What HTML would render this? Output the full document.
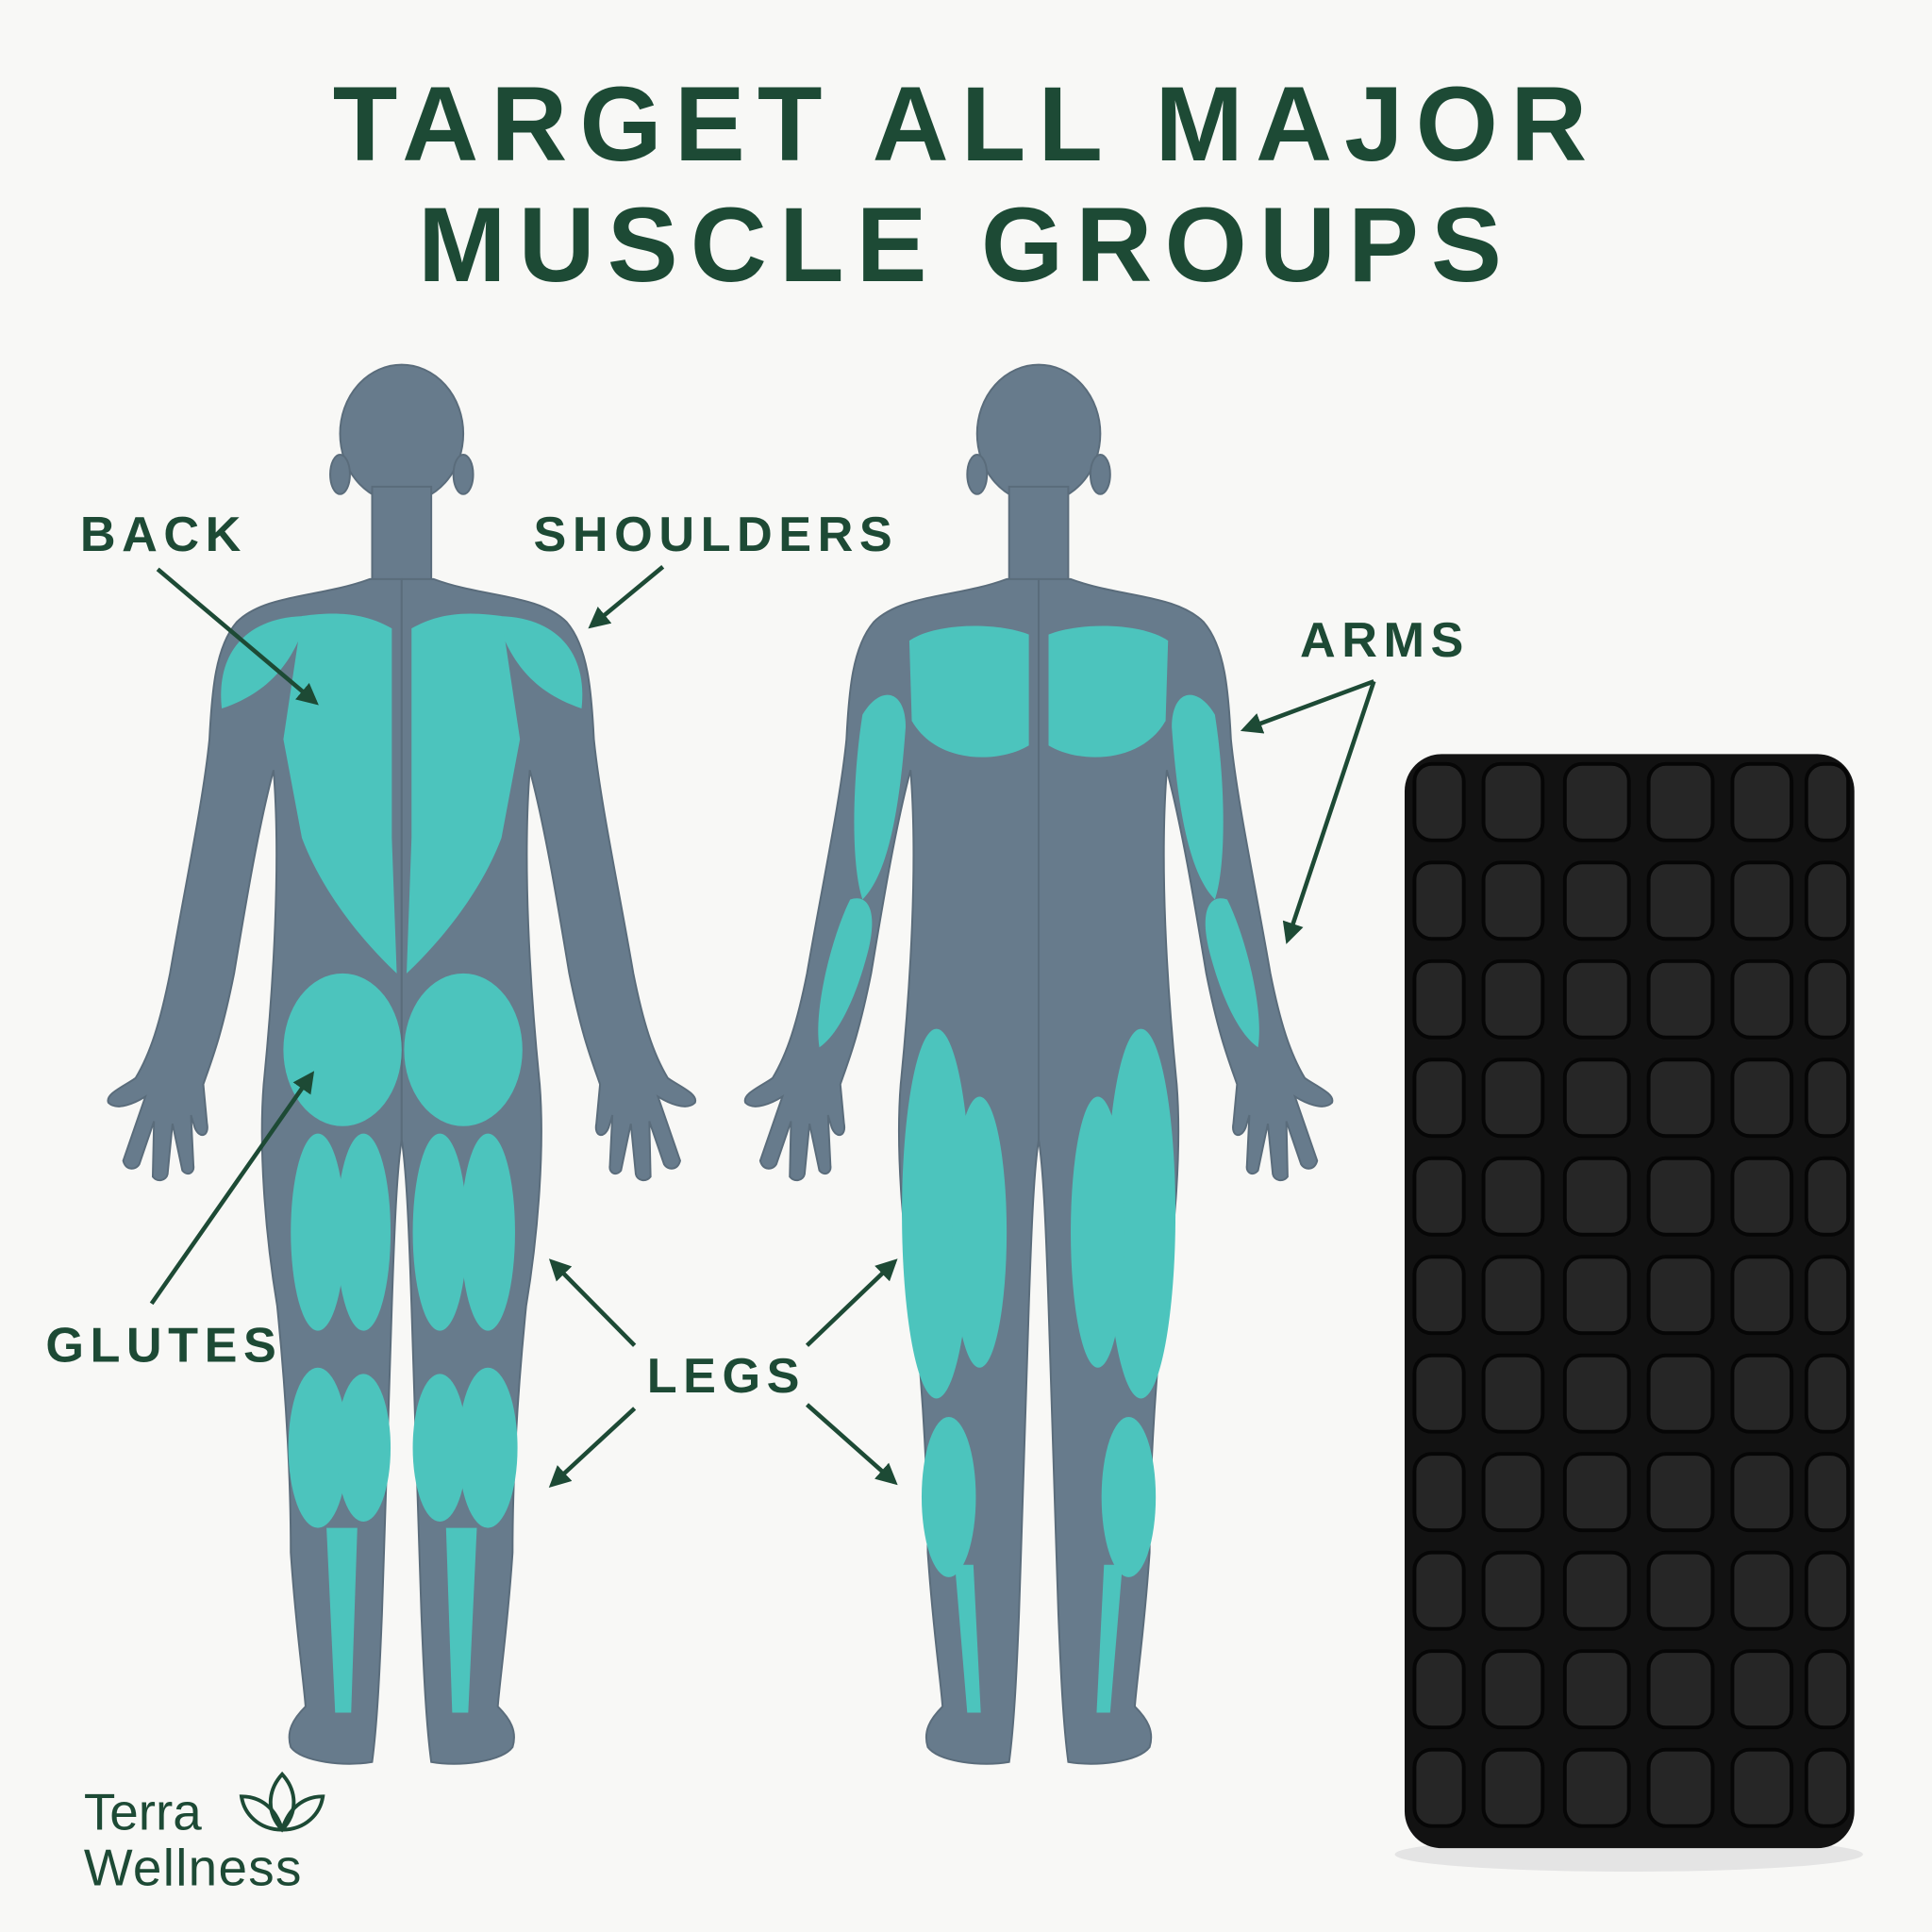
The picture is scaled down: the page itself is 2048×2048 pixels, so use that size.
<!DOCTYPE html>
<html><head><meta charset="utf-8"><style>
html,body{margin:0;padding:0;background:#f8f8f6;}
svg{display:block}
</style></head><body>
<svg width="2048" height="2048" viewBox="0 0 1568 1568" xmlns="http://www.w3.org/2000/svg">
<defs>
<path id="half" d="M326 470 L300 470 C260 485 215 482 192 505 C175 525 172 560 170 600 C165 650 150 720 138 790 C130 830 122 855 110 875 C100 882 85 888 88 895 C95 902 110 895 118 890 L100 942 C102 950 110 950 113 945 L125 910 L124 955 C128 960 135 958 136 953 L140 912 L148 950 C152 955 158 952 157 946 L155 905 L158 915 C162 925 170 922 168 912 L165 880 C172 860 180 840 190 790 C200 730 210 670 222 625 C228 700 222 800 214 880 C210 930 215 1000 225 1060 C232 1130 236 1200 236 1260 C240 1320 246 1360 248 1385 C238 1395 232 1405 236 1418 C245 1430 280 1434 302 1430 C306 1400 308 1360 310 1310 C313 1220 316 1120 318 1060 C320 1000 322 950 326 925 Z"/>
<marker id="ah" viewBox="0 0 10 10" refX="8" refY="5" markerWidth="5" markerHeight="5" orient="auto"><path d="M0 0 L10 5 L0 10 Z" fill="#1d4a35"/></marker>
</defs>
<rect width="1568" height="1568" fill="#f8f8f6"/>
<g font-family="Liberation Sans, sans-serif" font-weight="bold" fill="#1d4a35" text-anchor="middle">
<text x="784" y="130" font-size="86" letter-spacing="10">TARGET ALL MAJOR</text>
<text x="784" y="228" font-size="86" letter-spacing="10">MUSCLE GROUPS</text>
</g>
<!-- back figure -->
<g fill="#677b8c" stroke="#5a6c7b" stroke-width="1.5">
<ellipse cx="326" cy="352" rx="50" ry="56"/>
<ellipse cx="276" cy="385" rx="8" ry="16"/><ellipse cx="376" cy="385" rx="8" ry="16"/>
<rect x="302" y="395" width="48" height="90"/>
<use href="#half"/>
<use href="#half" transform="translate(652,0) scale(-1,1)"/>
</g>
<g fill="#4cc4bd">
<path d="M180 575 C175 530 200 500 250 500 C240 530 225 560 180 575 Z"/>
<path d="M472 575 C477 530 452 500 402 500 C412 530 427 560 472 575 Z"/>
<path d="M245 500 C280 495 300 500 318 510 L318 680 L322 790 C290 760 260 720 245 680 L230 600 Z"/>
<path d="M407 500 C372 495 352 500 334 510 L334 680 L330 790 C362 760 392 720 407 680 L422 600 Z"/>
<ellipse cx="278" cy="852" rx="48" ry="62"/><ellipse cx="376" cy="852" rx="48" ry="62"/>
<ellipse cx="258" cy="1000" rx="22" ry="80"/><ellipse cx="295" cy="1000" rx="22" ry="80"/>
<ellipse cx="357" cy="1000" rx="22" ry="80"/><ellipse cx="396" cy="1000" rx="22" ry="80"/>
<ellipse cx="258" cy="1175" rx="24" ry="65"/><ellipse cx="295" cy="1175" rx="22" ry="60"/>
<ellipse cx="357" cy="1175" rx="22" ry="60"/><ellipse cx="396" cy="1175" rx="24" ry="65"/>
<path d="M265 1240 L290 1240 L285 1390 L272 1390 Z"/><path d="M362 1240 L387 1240 L380 1390 L367 1390 Z"/>
</g>
<!-- front figure -->
<g fill="#677b8c" stroke="#5a6c7b" stroke-width="1.5" transform="translate(517,0)">
<ellipse cx="326" cy="352" rx="50" ry="56"/>
<ellipse cx="276" cy="385" rx="8" ry="16"/><ellipse cx="376" cy="385" rx="8" ry="16"/>
<rect x="302" y="395" width="48" height="90"/>
<use href="#half"/>
<use href="#half" transform="translate(652,0) scale(-1,1)"/>
</g>
<g fill="#4cc4bd">
<path d="M738 520 C760 505 810 505 835 515 L835 605 C810 620 760 620 740 585 Z"/>
<path d="M948 520 C926 505 876 505 851 515 L851 605 C876 620 926 620 946 585 Z"/>
<path d="M700 580 C715 555 735 560 735 590 C730 660 720 710 700 730 C690 700 692 630 700 580 Z"/>
<path d="M986 580 C971 555 951 560 951 590 C956 660 966 710 986 730 C996 700 994 630 986 580 Z"/>
<path d="M690 730 C705 725 712 740 705 770 C695 810 680 840 665 850 C660 820 675 760 690 730 Z"/>
<path d="M996 730 C981 725 974 740 981 770 C991 810 1006 840 1021 850 C1026 820 1011 760 996 730 Z"/>
<ellipse cx="760" cy="985" rx="28" ry="150"/><ellipse cx="795" cy="1000" rx="22" ry="110"/>
<ellipse cx="926" cy="985" rx="28" ry="150"/><ellipse cx="891" cy="1000" rx="22" ry="110"/>
<ellipse cx="770" cy="1215" rx="22" ry="65"/><ellipse cx="916" cy="1215" rx="22" ry="65"/>
<path d="M775 1270 L790 1270 L796 1390 L785 1390 Z"/><path d="M911 1270 L896 1270 L890 1390 L901 1390 Z"/>
</g>
<!-- roller -->
<ellipse cx="1322" cy="1505" rx="190" ry="14" fill="#e4e4e4"/>
<rect x="1140" y="612" width="365" height="888" rx="30" fill="#121212"/>
<g fill="#262626" stroke="#060606" stroke-width="3">
<g id="row">
<rect x="1148" y="620" width="40" height="62" rx="14"/>
<rect x="1204" y="620" width="48" height="62" rx="14"/>
<rect x="1270" y="620" width="52" height="62" rx="14"/>
<rect x="1338" y="620" width="52" height="62" rx="14"/>
<rect x="1406" y="620" width="48" height="62" rx="14"/>
<rect x="1466" y="620" width="34" height="62" rx="14"/>
</g>
<use href="#row" y="80"/><use href="#row" y="160"/><use href="#row" y="240"/>
<use href="#row" y="320"/><use href="#row" y="400"/><use href="#row" y="480"/>
<use href="#row" y="560"/><use href="#row" y="640"/><use href="#row" y="720"/>
<use href="#row" y="800"/>
</g>
<!-- labels -->
<g font-family="Liberation Sans, sans-serif" font-weight="bold" fill="#1d4a35" font-size="40" letter-spacing="5">
<text x="65" y="447">BACK</text>
<text x="433" y="447">SHOULDERS</text>
<text x="1055" y="533">ARMS</text>
<text x="37" y="1105">GLUTES</text>
<text x="525" y="1130">LEGS</text>
</g>
<g stroke="#1d4a35" stroke-width="3.5" fill="none" marker-end="url(#ah)">
<line x1="128" y1="462" x2="256" y2="570"/>
<line x1="538" y1="460" x2="480" y2="508"/>
<line x1="1115" y1="553" x2="1010" y2="592"/>
<line x1="1115" y1="553" x2="1045" y2="763"/>
<line x1="123" y1="1058" x2="253" y2="872"/>
<line x1="515" y1="1092" x2="448" y2="1024"/>
<line x1="515" y1="1143" x2="448" y2="1205"/>
<line x1="655" y1="1092" x2="726" y2="1024"/>
<line x1="655" y1="1140" x2="726" y2="1203"/>
</g>
<!-- logo -->
<g font-family="Liberation Sans, sans-serif" fill="#1d4a35" font-size="42">
<text x="68" y="1485">Terra</text>
<text x="68" y="1530" letter-spacing="1">Wellness</text>
</g>
<g fill="none" stroke="#1d4a35" stroke-width="3">
<path d="M229 1485 C215 1470 218 1452 229 1440 C240 1452 243 1470 229 1485 Z"/>
<path d="M229 1485 C210 1485 198 1472 196 1458 C212 1458 224 1468 229 1485 Z"/>
<path d="M229 1485 C248 1485 260 1472 262 1458 C246 1458 234 1468 229 1485 Z"/>
</g>
</svg>
</body></html>
